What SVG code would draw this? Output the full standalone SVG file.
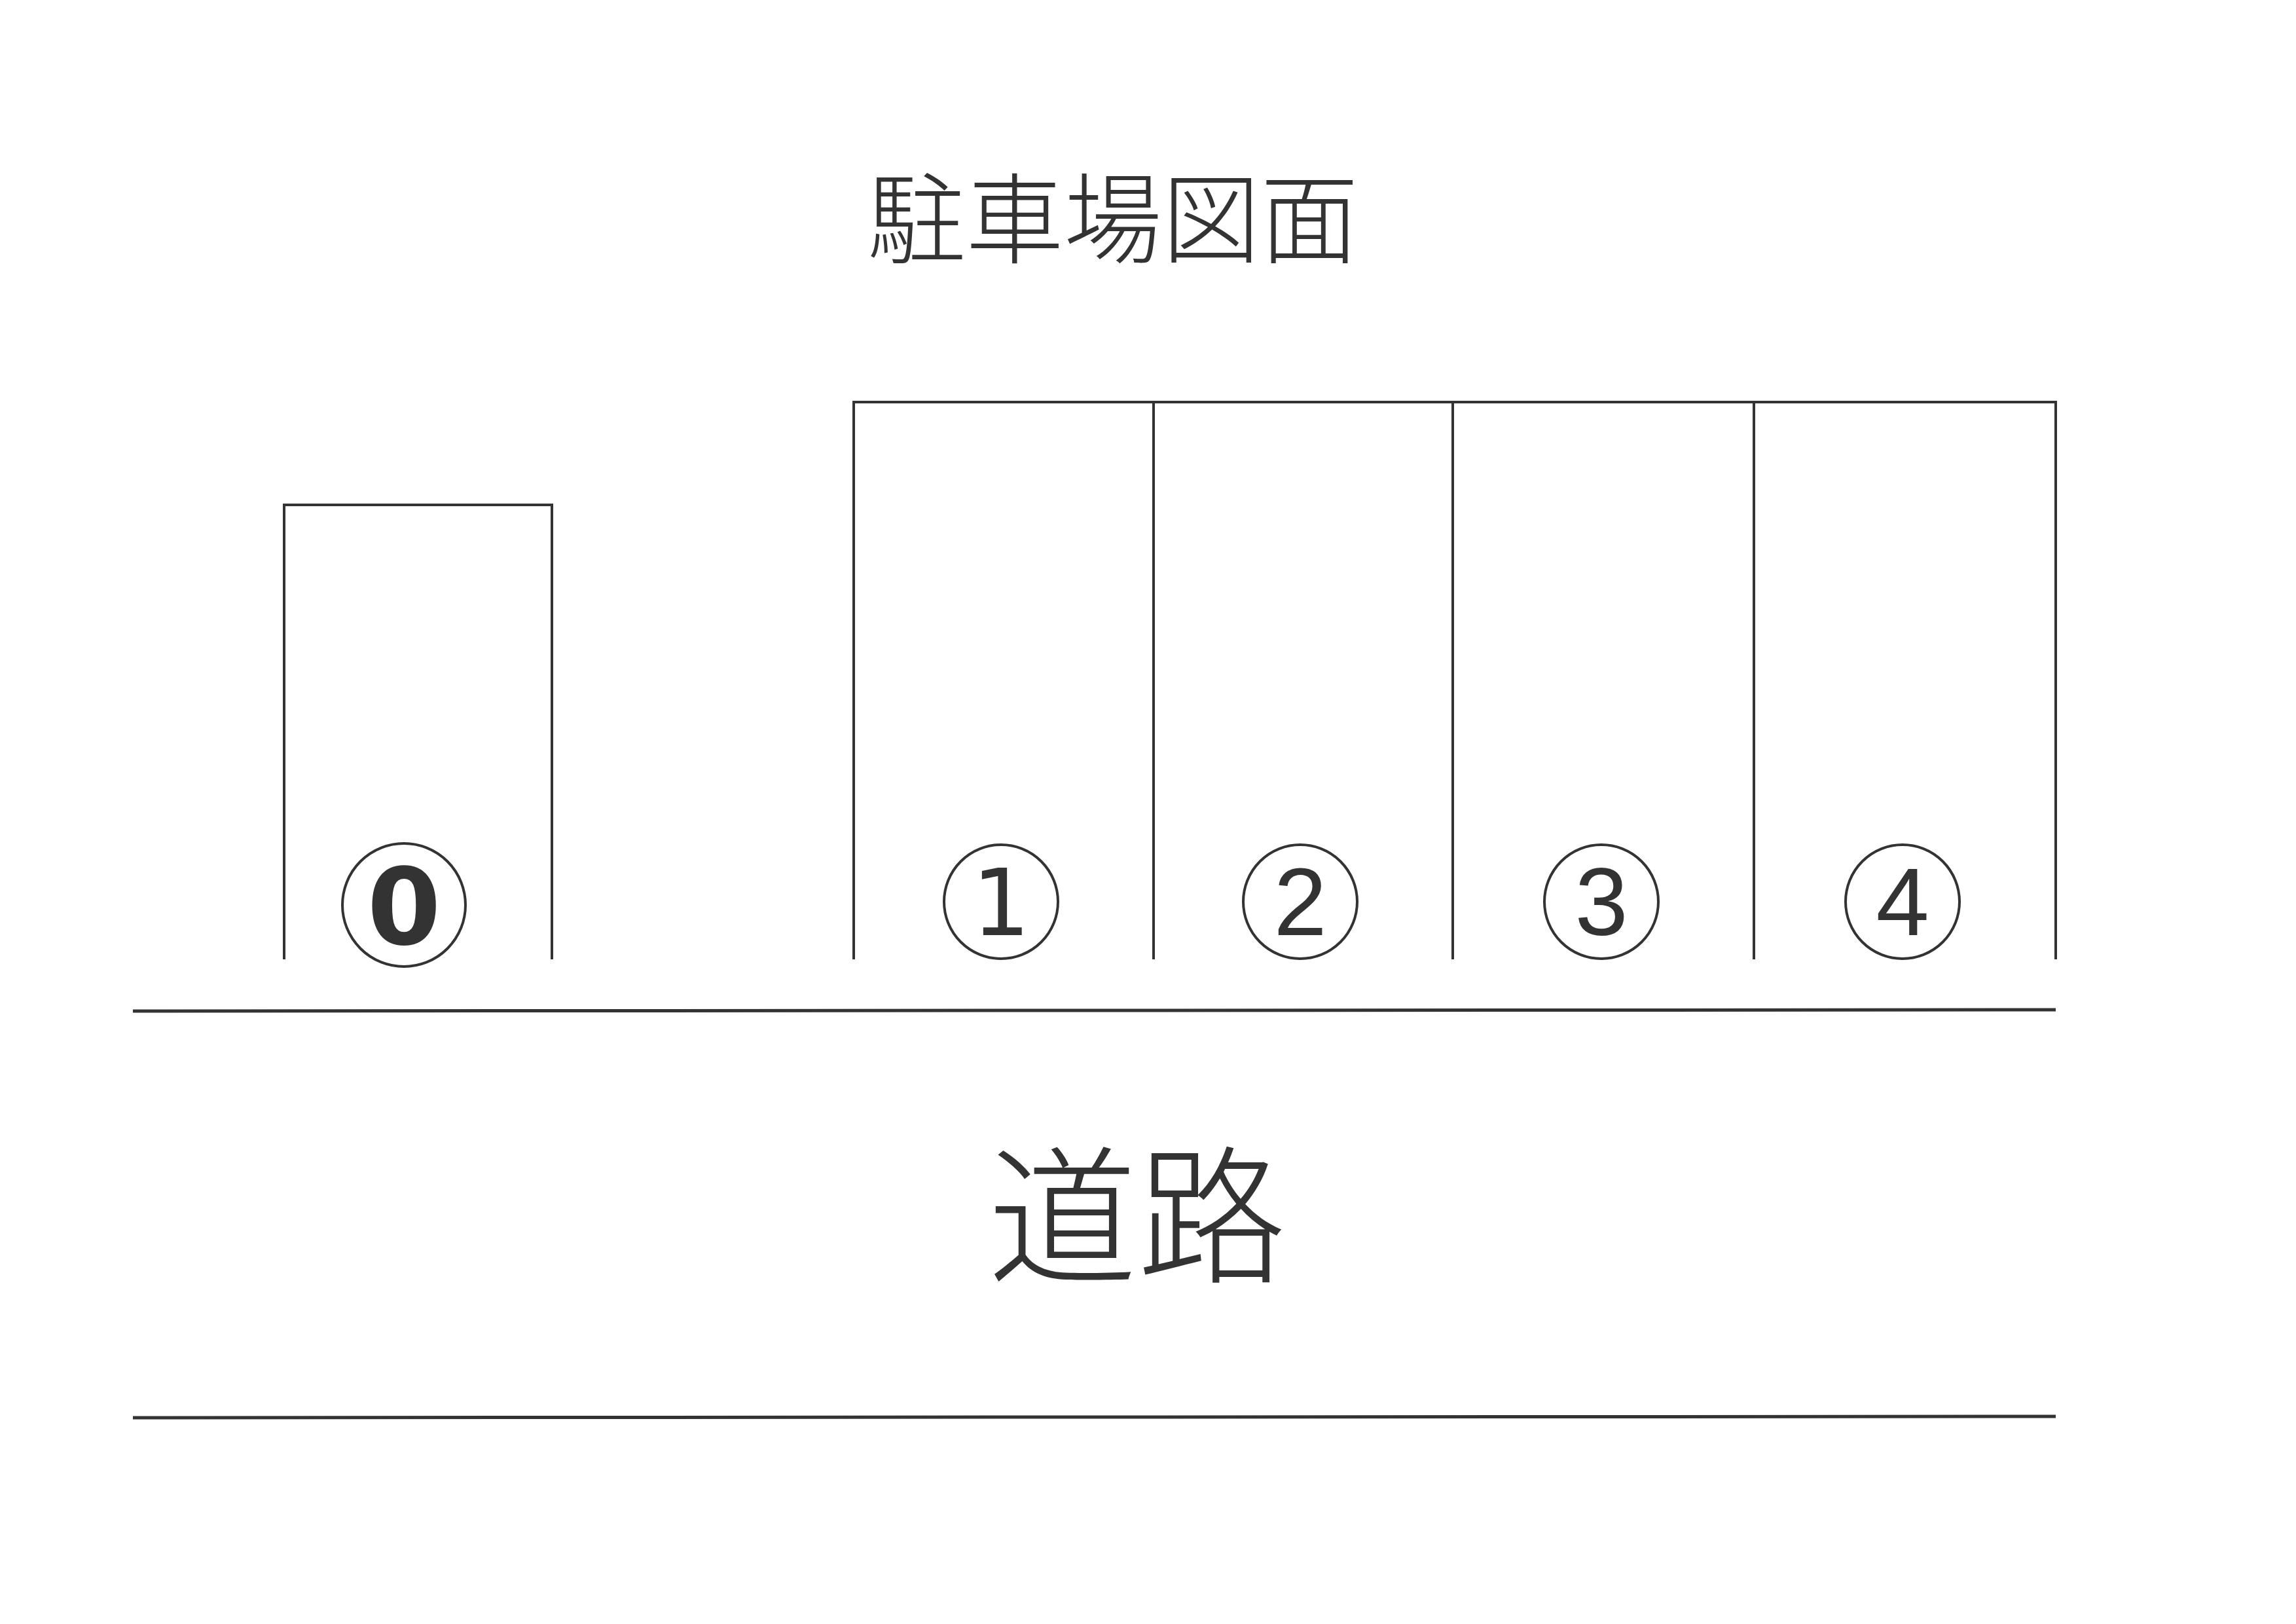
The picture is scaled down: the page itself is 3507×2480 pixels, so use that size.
<svg xmlns="http://www.w3.org/2000/svg" width="3507" height="2480" viewBox="0 0 3507 2480">
  <style>
    .ln { stroke: #333; stroke-width: 4; fill: none; stroke-linecap: butt; }
    .road { stroke: #333; stroke-width: 5; fill: none; }
    .ring { stroke: #333; stroke-width: 4; fill: none; }
    .num { font-family: "Liberation Sans", "DejaVu Sans", sans-serif; font-size: 146px; fill: #333; text-anchor: middle; }
    .one { font-family: "DejaVu Sans", "Liberation Sans", sans-serif; font-size: 140px; fill: #333; text-anchor: middle; }
    .num0 { font-family: "DejaVu Sans", "Liberation Sans", sans-serif; font-size: 162px; font-weight: bold; fill: #333; text-anchor: middle; }
    .jp { font-family: "Noto Sans CJK JP", "Noto Sans CJK SC", sans-serif; font-weight: 300; fill: #333; text-anchor: middle; }
  </style>
  <rect width="3507" height="2480" fill="#ffffff"/>

  <g id="title">
    <text class="jp" x="1700" y="390" font-size="150">駐車場図面</text>
  </g>

  <g id="stall-0">
    <polyline class="ln" points="434,1465 434,771 843,771 843,1465"/>
    <circle class="ring" cx="617" cy="1382" r="94"/>
    <text class="num0" x="617" y="1442">0</text>
  </g>

  <g id="stalls-frame">
    <polyline class="ln" points="1304,1465 1304,614 3140,614 3140,1465"/>
  </g>

  <g id="stall-1">
    <line class="ln" x1="1762" y1="614" x2="1762" y2="1465"/>
    <circle class="ring" cx="1529" cy="1377" r="87"/>
    <text class="one" x="1529" y="1428">1</text>
  </g>

  <g id="stall-2">
    <line class="ln" x1="2219" y1="614" x2="2219" y2="1465"/>
    <circle class="ring" cx="1986" cy="1377" r="87"/>
    <text class="num" x="1986" y="1428">2</text>
  </g>

  <g id="stall-3">
    <line class="ln" x1="2679" y1="614" x2="2679" y2="1465"/>
    <circle class="ring" cx="2446" cy="1377" r="87"/>
    <text class="num" x="2446" y="1428">3</text>
  </g>

  <g id="stall-4">
    <circle class="ring" cx="2906" cy="1377" r="87"/>
    <text class="num" x="2906" y="1428">4</text>
  </g>

  <g id="road">
    <line class="road" x1="203" y1="1544" x2="3140" y2="1542"/>
    <line class="road" x1="203" y1="2165" x2="3140" y2="2163"/>
    <text class="jp" x="1737" y="1942" font-size="228">道路</text>
  </g>

  <g id="connectors"></g>
</svg>
